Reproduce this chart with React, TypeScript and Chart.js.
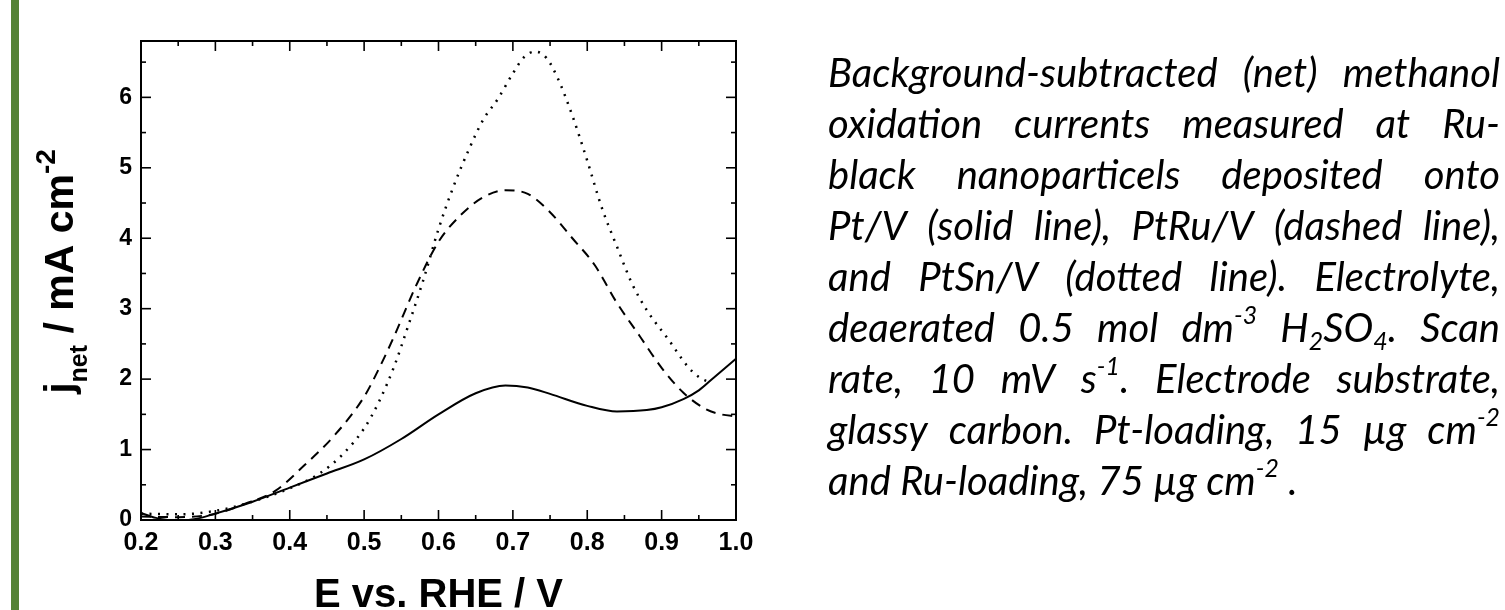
import React, { useEffect, useRef } from "react";
import { Chart, registerables } from "chart.js";

Chart.register(...registerables);

// ---- axis ranges & ticks ----
const X_MIN = 0.2;
const X_MAX = 1.0;
const Y_MIN = 0;
const Y_MAX = 6.8;
const xMajor = [0.2, 0.3, 0.4, 0.5, 0.6, 0.7, 0.8, 0.9, 1.0];
const xMinor = [0.25, 0.35, 0.45, 0.55, 0.65, 0.75, 0.85, 0.95];
const yMajor = [0, 1, 2, 3, 4, 5, 6];
const yMinor = [0.5, 1.5, 2.5, 3.5, 4.5, 5.5, 6.5];

// ---- series: Pt/V (solid) ----
const solidE = [0.20, 0.22, 0.24, 0.26, 0.28, 0.30, 0.35, 0.40, 0.45, 0.50, 0.55, 0.60, 0.65, 0.69, 0.72, 0.75, 0.80, 0.84, 0.88, 0.90, 0.93, 0.95, 0.97, 1.00];
const solidJ = [0.10, 0.03, 0.00, 0.00, 0.03, 0.09, 0.26, 0.46, 0.66, 0.86, 1.15, 1.50, 1.80, 1.91, 1.88, 1.79, 1.62, 1.54, 1.56, 1.60, 1.72, 1.84, 2.02, 2.29];

// ---- series: PtRu/V (dashed) ----
const dashedE = [0.20, 0.25, 0.30, 0.34, 0.38, 0.42, 0.46, 0.50, 0.52, 0.54, 0.57, 0.60, 0.63, 0.66, 0.69, 0.72, 0.75, 0.78, 0.81, 0.84, 0.87, 0.90, 0.93, 0.96, 0.98, 1.00];
const dashedJ = [0.05, 0.04, 0.09, 0.23, 0.41, 0.78, 1.20, 1.75, 2.15, 2.60, 3.33, 3.95, 4.33, 4.58, 4.68, 4.63, 4.37, 4.00, 3.62, 3.08, 2.62, 2.16, 1.80, 1.57, 1.50, 1.47];

// ---- series: PtSn/V (dotted) ----
const dottedE = [0.20, 0.25, 0.30, 0.34, 0.40, 0.44, 0.47, 0.50, 0.52, 0.54, 0.56, 0.58, 0.60, 0.62, 0.64, 0.66, 0.68, 0.70, 0.715, 0.73, 0.745, 0.76, 0.78, 0.80, 0.82, 0.84, 0.86, 0.88, 0.91, 0.935, 0.95, 0.965];
const dottedJ = [0.09, 0.08, 0.13, 0.23, 0.45, 0.66, 0.92, 1.30, 1.68, 2.17, 2.78, 3.42, 4.13, 4.73, 5.24, 5.68, 5.98, 6.34, 6.57, 6.65, 6.56, 6.28, 5.74, 5.10, 4.42, 3.88, 3.36, 2.98, 2.55, 2.18, 2.03, 1.95];

const AXIS_FONT = "'Liberation Sans', Arial, Helvetica, sans-serif";

const toPts = (xs: number[], ys: number[]) => xs.map((x, i) => ({ x, y: ys[i] }));

type Part = { text: string; size: number; dy: number };

function drawRich(ctx: CanvasRenderingContext2D, parts: Part[], cx: number, baseline: number) {
  let total = 0;
  const widths = parts.map((p) => {
    ctx.font = `bold ${p.size}px ${AXIS_FONT}`;
    const w = ctx.measureText(p.text).width;
    total += w;
    return w;
  });
  let x = cx - total / 2;
  ctx.textAlign = "left";
  ctx.textBaseline = "alphabetic";
  parts.forEach((p, i) => {
    ctx.font = `bold ${p.size}px ${AXIS_FONT}`;
    ctx.fillText(p.text, x, baseline + p.dy);
    x += widths[i];
  });
}

const framePlugin = {
  id: "frameTicks",
  afterDraw(chart: any) {
    const { ctx, chartArea: a, scales } = chart;
    const xs = scales.x;
    const ys = scales.y;
    ctx.save();
    ctx.strokeStyle = "#000";
    ctx.lineWidth = 1.6;
    const seg = (x1: number, y1: number, x2: number, y2: number) => {
      ctx.beginPath();
      ctx.moveTo(x1, y1);
      ctx.lineTo(x2, y2);
      ctx.stroke();
    };
    const MAJ = 10;
    const MIN = 5;
    xMajor.forEach((v) => {
      const p = xs.getPixelForValue(v);
      seg(p, a.bottom, p, a.bottom - MAJ);
      seg(p, a.top, p, a.top + MAJ);
    });
    xMinor.forEach((v) => {
      const p = xs.getPixelForValue(v);
      seg(p, a.bottom, p, a.bottom - MIN);
      seg(p, a.top, p, a.top + MIN);
    });
    yMajor.forEach((v) => {
      const p = ys.getPixelForValue(v);
      seg(a.left, p, a.left + MAJ, p);
      seg(a.right, p, a.right - MAJ, p);
    });
    yMinor.forEach((v) => {
      const p = ys.getPixelForValue(v);
      seg(a.left, p, a.left + MIN, p);
      seg(a.right, p, a.right - MIN, p);
    });
    ctx.lineWidth = 2;
    ctx.strokeRect(a.left, a.top, a.right - a.left, a.bottom - a.top);

    // axis titles
    ctx.fillStyle = "#000";
    drawRich(ctx, [{ text: "E vs. RHE / V", size: 40, dy: 0 }], (a.left + a.right) / 2, 607);

    ctx.save();
    ctx.translate(73, (a.top + a.bottom) / 2 - 9);
    ctx.rotate(-Math.PI / 2);
    drawRich(
      ctx,
      [
        { text: "j", size: 41, dy: 0 },
        { text: "net", size: 25, dy: 14 },
        { text: " / mA cm", size: 41, dy: 0 },
        { text: "-2", size: 28, dy: -18 },
      ],
      0,
      0
    );
    ctx.restore();
    ctx.restore();
  },
};

function ChartCanvas() {
  const ref = useRef<HTMLCanvasElement | null>(null);
  useEffect(() => {
    if (!ref.current) return;
    const chart = new Chart(ref.current, {
      type: "line",
      data: {
        datasets: [
          {
            label: "Pt/V",
            data: toPts(solidE, solidJ),
            borderColor: "#000",
            borderWidth: 2,
            pointRadius: 0,
            fill: false,
            cubicInterpolationMode: "monotone",
          },
          {
            label: "PtRu/V",
            data: toPts(dashedE, dashedJ),
            borderColor: "#000",
            borderWidth: 2,
            borderDash: [10, 7],
            pointRadius: 0,
            fill: false,
            cubicInterpolationMode: "monotone",
          },
          {
            label: "PtSn/V",
            data: toPts(dottedE, dottedJ),
            borderColor: "#000",
            borderWidth: 2.5,
            borderDash: [2, 6.5],
            pointRadius: 0,
            fill: false,
            cubicInterpolationMode: "monotone",
          },
        ],
      },
      options: {
        animation: false,
        responsive: false,
        devicePixelRatio: 1,
        layout: { padding: { left: 81, right: 769, top: 41, bottom: 40 } },
        plugins: {
          legend: { display: false },
          tooltip: { enabled: false },
        },
        scales: {
          x: {
            type: "linear",
            min: X_MIN,
            max: X_MAX,
            grid: { display: false, drawTicks: false, tickLength: 0 },
            border: { display: false },
            afterBuildTicks: (s: any) => {
              s.ticks = xMajor.map((v) => ({ value: v }));
            },
            afterFit: (s: any) => {
              s.height = 50;
            },
            ticks: {
              padding: 8,
              color: "#000",
              maxRotation: 0,
              autoSkip: false,
              font: { family: AXIS_FONT, size: 25, weight: "bold" },
              callback: (v: any) => Number(v).toFixed(1),
            },
          },
          y: {
            type: "linear",
            min: Y_MIN,
            max: Y_MAX,
            grid: { display: false, drawTicks: false, tickLength: 0 },
            border: { display: false },
            afterBuildTicks: (s: any) => {
              s.ticks = yMajor.map((v) => ({ value: v }));
            },
            afterFit: (s: any) => {
              s.width = 60;
            },
            ticks: {
              padding: 9,
              color: "#000",
              autoSkip: false,
              font: { family: AXIS_FONT, size: 23, weight: "bold" },
              callback: (v: any) => String(v),
            },
          },
        },
      } as any,
      plugins: [framePlugin],
    });
    return () => chart.destroy();
  }, []);
  return <canvas ref={ref} width={1505} height={610} style={{ position: "absolute", left: 0, top: 0, width: 1505, height: 610 }} />;
}

const sup = (t: string) => (
  <span style={{ fontSize: "0.62em", position: "relative", top: "-0.72em", lineHeight: 0 }}>{t}</span>
);
const sub = (t: string) => (
  <span style={{ fontSize: "0.62em", position: "relative", top: "0.32em", lineHeight: 0 }}>{t}</span>
);

const captionLines: React.ReactNode[][] = [
  ["Background-subtracted", "(net)", "methanol"],
  ["oxidation", "currents", "measured", "at", "Ru-"],
  ["black", "nanoparticels", "deposited", "onto"],
  ["Pt/V", "(solid", "line),", "PtRu/V", "(dashed", "line),"],
  ["and", "PtSn/V", "(dotted", "line).", "Electrolyte,"],
  ["deaerated", "0.5", "mol", <>dm{sup("-3")}</>, <>H{sub("2")}SO{sub("4")}.</>, "Scan"],
  ["rate,", "10", "mV", <>s{sup("-1")}.</>, "Electrode", "substrate,"],
  ["glassy", "carbon.", "Pt-loading,", "15", "µg", <>cm{sup("-2")}</>],
];

function Caption() {
  const common: React.CSSProperties = {
    height: 51,
    lineHeight: "51px",
    whiteSpace: "nowrap",
  };
  return (
    <div
      style={{
        position: "absolute",
        left: 828,
        top: 47,
        width: 672,
        fontFamily: "Lato, 'Open Sans', sans-serif",
        fontStyle: "italic",
        fontSize: 40,
        color: "#000",
      }}
    >
      {captionLines.map((words, i) => (
        <div key={i} style={{ ...common, display: "flex", justifyContent: "space-between" }}>
          {words.map((w, j) => (
            <span key={j}>{w}</span>
          ))}
        </div>
      ))}
      <div style={common}>
        and Ru-loading, 75 µg cm{sup("-2")} .
      </div>
    </div>
  );
}

export default function App() {
  return (
    <div style={{ position: "absolute", left: 0, top: 0, width: 1505, height: 610, background: "#fff", overflow: "hidden" }}>
      <div style={{ position: "absolute", left: 11, top: 0, width: 8, height: 610, background: "#548235" }} />
      <ChartCanvas />
      <Caption />
    </div>
  );
}
